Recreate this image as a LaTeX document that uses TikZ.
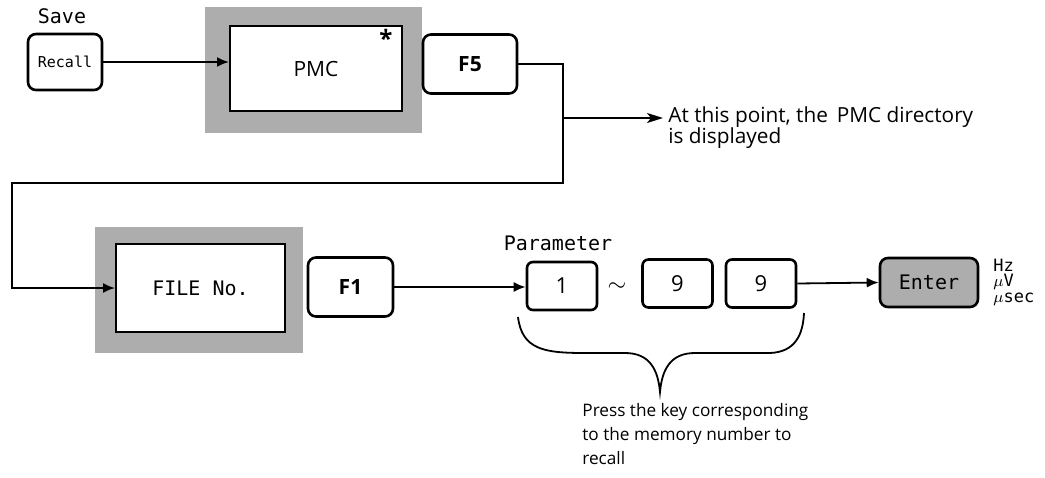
\documentclass[tikz,border=0pt]{standalone}
\usepackage{amsmath}
\usepackage{fontspec}
\setmainfont{Open Sans}
\setmonofont{DejaVu Sans Mono}
\usepackage{tikz}
\usepackage{xcolor}
\usetikzlibrary{arrows.meta}

\definecolor{dither}{gray}{0.68}
\tikzset{
  keybox/.style={draw, line width=1.3pt, rounded corners=4pt, fill=white, inner sep=0pt, font=\sffamily\bfseries},
  numbox/.style={draw, line width=1.3pt, rounded corners=3pt, fill=white, inner sep=0pt, minimum width=35pt, minimum height=24pt, font=\fontsize{11}{12}\selectfont},
  shade/.style={fill=dither, inner sep=0pt},
  panel/.style={draw, line width=1pt, fill=white, inner sep=0pt},
  mono/.style={font=\ttfamily\fontsize{10}{11}\selectfont},
  unit/.style={anchor=west, inner sep=0pt, font=\ttfamily\fontsize{8.5}{9}\selectfont},
  flow/.style={line width=0.9pt, -{Latex[length=6pt,width=5pt]}},
  wire/.style={line width=0.9pt}
}

\begin{document}
\begin{tikzpicture}[x=0.5pt, y=-0.5pt]
				\useasboundingbox (0,0) rectangle (1045,477);
				% Top row
				\node[mono] (save) at (62,16) {Save};
				\node[keybox, minimum width=37pt, minimum height=28pt, font=\ttfamily\fontsize{7.5}{8}\selectfont] (recall) at (65,62) {Recall};
				\node[shade, minimum width=108.5pt, minimum height=63pt] (pmcshade) at (313,70) {};
				\node[panel, minimum width=86pt, minimum height=42.5pt] (pmc) at (316,68.5) {};
				\node[font=\fontsize{10.5}{12}\selectfont] (pmclabel) at (pmc) {PMC};
				\node[font=\fontsize{12}{12}\selectfont\bfseries] (star) at (386,38) {*};
				\node[keybox, minimum width=47pt, minimum height=29.5pt, font=\fontsize{10.5}{12}\selectfont\bfseries] (f5) at (470,64) {F5};
				\node[align=left, anchor=north west, font=\fontsize{10.4}{10.6}\selectfont, inner sep=0pt] (note) at (668,106) {At this point, the\, PMC directory\\is displayed};
				\coordinate (split) at (563,64);
				\coordinate (notetip) at (663,118);
				\coordinate (back) at (12,183);
				
				% Bottom row
				\node[shade, minimum width=104pt, minimum height=63pt] (fileshade) at (199,290) {};
				\node[panel, minimum width=84.5pt, minimum height=44pt, mono] (file) at (200.5,288) {FILE No.};
				\node[keybox, minimum width=42.5pt, minimum height=29.5pt, font=\fontsize{10.5}{12}\selectfont\bfseries] (f1) at (350.5,287) {F1};
				\node[mono] (param) at (558,243) {Parameter};
				\node[numbox] (first) at (562,286) {1};
				\node[font=\fontsize{12}{12}\selectfont] (tilde) at (617,287) {$\sim$};
				\node[numbox] (ninea) at (677.5,283.5) {9};
				\node[numbox] (nineb) at (761,283.5) {9};
				\node[keybox, fill=dither, minimum width=49pt, minimum height=24.5pt, font=\ttfamily\fontsize{10}{11}\selectfont] (enter) at (929,282.5) {Enter};
				\node[unit] (hz) at (993,265) {Hz};
				\node[unit] (uv) at (993,282) {$\mu$V};
				\node[unit] (usec) at (993,299) {$\mu$sec};
				\node[align=left, anchor=north west, font=\fontsize{8.6}{12}\selectfont, inner sep=0pt] (press) at (582,403) {Press the key corresponding\\to the memory number to\\recall};
				
				% Connectors
				\draw[flow] (recall) -- (recall -| pmc.west);
				\draw[flow] (f5.east) -- (split) |- (back) |- (file.west);
				\draw[line width=0.9pt, -{Stealth[length=8pt,width=5pt,inset=2pt]}] (split |- notetip) -- (notetip);
				\draw[flow] (f1.east) -- (f1.east -| first.west);
				\draw[flow] (nineb.east) -- (enter.west);
				
				% Brace under the keys
				\draw[line width=0.9pt] (518,317) .. controls (522,350) and (545,353) .. (585,353) -- (625,353) .. controls (650,353) and (658,370) .. (660,392) .. controls (662,370) and (670,353) .. (695,353) -- (770,353) .. controls (795,352) and (803,335) .. (804,313);
			\end{tikzpicture}
\end{document}
